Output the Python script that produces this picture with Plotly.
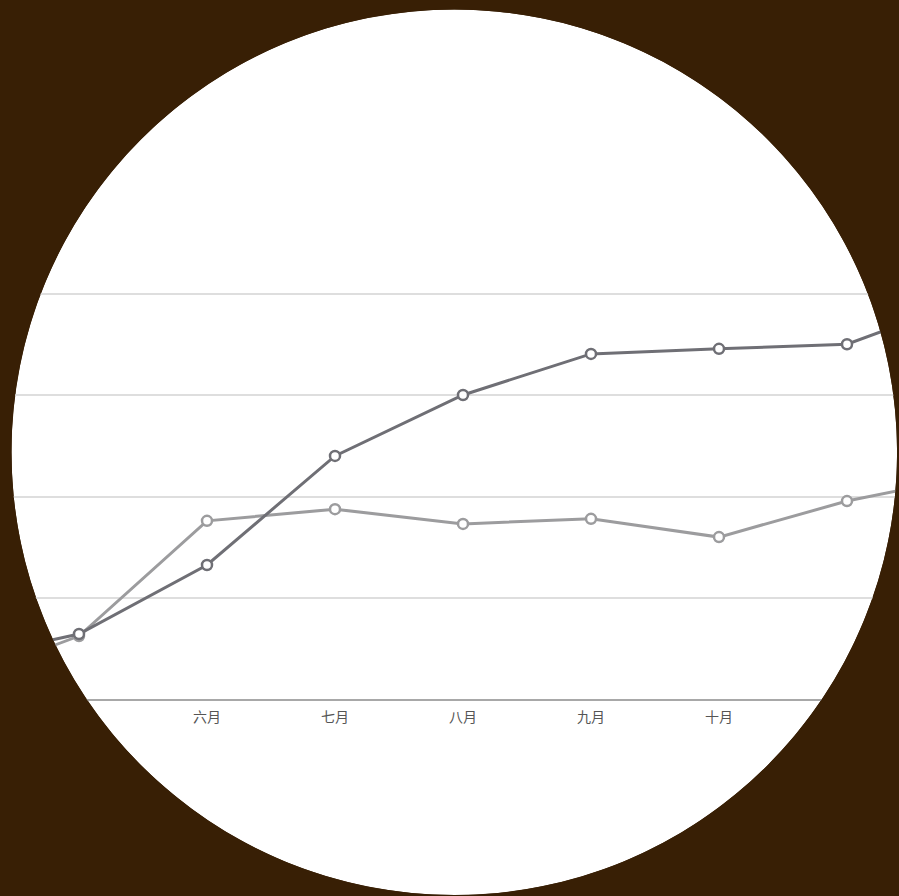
import plotly.graph_objects as go

# ---- data ----
months = ["四月", "五月", "六月", "七月", "八月", "九月", "十月", "十一月", "十二月"]
series_dark = [7.5, 13.0, 26.6, 48.1, 60.1, 68.2, 69.2, 70.1, 79.4]
series_light = [3.2, 12.6, 35.3, 37.6, 34.7, 35.7, 32.1, 39.2, 44.3]
y_ticks = [0, 20, 40, 60, 80]

W, H = 899, 896
BROWN = "#381F05"
DARK = "#6f6f75"
LIGHT = "#9c9c9e"

fig = go.Figure()
fig.add_trace(go.Scatter(
    x=months, y=series_light, mode="lines+markers",
    line=dict(color=LIGHT, width=3),
    marker=dict(symbol="circle", size=10, color="white", line=dict(color=LIGHT, width=2.5)),
    showlegend=False, cliponaxis=True,
))
fig.add_trace(go.Scatter(
    x=months, y=series_dark, mode="lines+markers",
    line=dict(color=DARK, width=3),
    marker=dict(symbol="circle", size=10, color="white", line=dict(color=DARK, width=2.5)),
    showlegend=False, cliponaxis=True,
))

# pixel layout helpers (margins are zero, so paper == figure)
def px(x):
    return x / W

def py(y):
    return 1 - y / H

# circular mask: outer rectangle minus circle (evenodd)
cx, cy, r = 454.3, 452.3, 442.8
k = 0.5523 * r
pts = [
    (cx + r, cy),
    (cx + r, cy + k), (cx + k, cy + r), (cx, cy + r),
    (cx - k, cy + r), (cx - r, cy + k), (cx - r, cy),
    (cx - r, cy - k), (cx - k, cy - r), (cx, cy - r),
    (cx + k, cy - r), (cx + r, cy - k), (cx + r, cy),
]
def P(p):
    return f"{px(p[0]):.6f},{py(p[1]):.6f}"
circle = "M" + P(pts[0])
for i in range(1, 13, 3):
    circle += " C" + P(pts[i]) + " " + P(pts[i + 1]) + " " + P(pts[i + 2])
circle += " Z"
rect = "M-0.05,-0.05 L1.05,-0.05 L1.05,1.05 L-0.05,1.05 Z"
fig.add_shape(type="path", path=rect + " " + circle, xref="paper", yref="paper",
              fillcolor=BROWN, line=dict(width=0), layer="above", fillrule="evenodd")

# x range so that 六月 (index 2) sits at pixel 207, spacing 128 px
x0 = 207 - 2 * 128
xr = [(0 - x0) / 128, (W - x0) / 128]

# y: 0 at pixel 700, 80 at pixel 294; extend range a little so top grid shows
ppu = (700 - 294) / 80
ytop = 81.5
top_px = 700 - ytop * ppu

fig.update_layout(
    width=W, height=H,
    margin=dict(l=0, r=0, t=0, b=0),
    paper_bgcolor=BROWN, plot_bgcolor="rgba(0,0,0,0)",
    xaxis=dict(
        range=xr, showgrid=False, zeroline=False,
        showline=False, ticks="", ticklabelstandoff=7,
        tickfont=dict(family="Noto Sans CJK SC", size=14, color="#555555"),
        anchor="y",
    ),
    yaxis=dict(
        domain=[(H - 700) / H, (H - top_px) / H],
        range=[0, ytop], tickvals=y_ticks, showticklabels=False,
        showgrid=True, gridcolor="#dedede", gridwidth=1.5,
        zeroline=True, zerolinecolor="#a8a8a8", zerolinewidth=1.5,
        showline=False, ticks="",
    ),
    font=dict(family="Noto Sans CJK SC"),
)

# white disc behind the chart
fig.add_shape(type="circle", xref="paper", yref="paper",
              x0=px(cx - r), x1=px(cx + r), y0=py(cy + r), y1=py(cy - r),
              fillcolor="white", line=dict(width=0), layer="below")

fig.write_html("out.html")
